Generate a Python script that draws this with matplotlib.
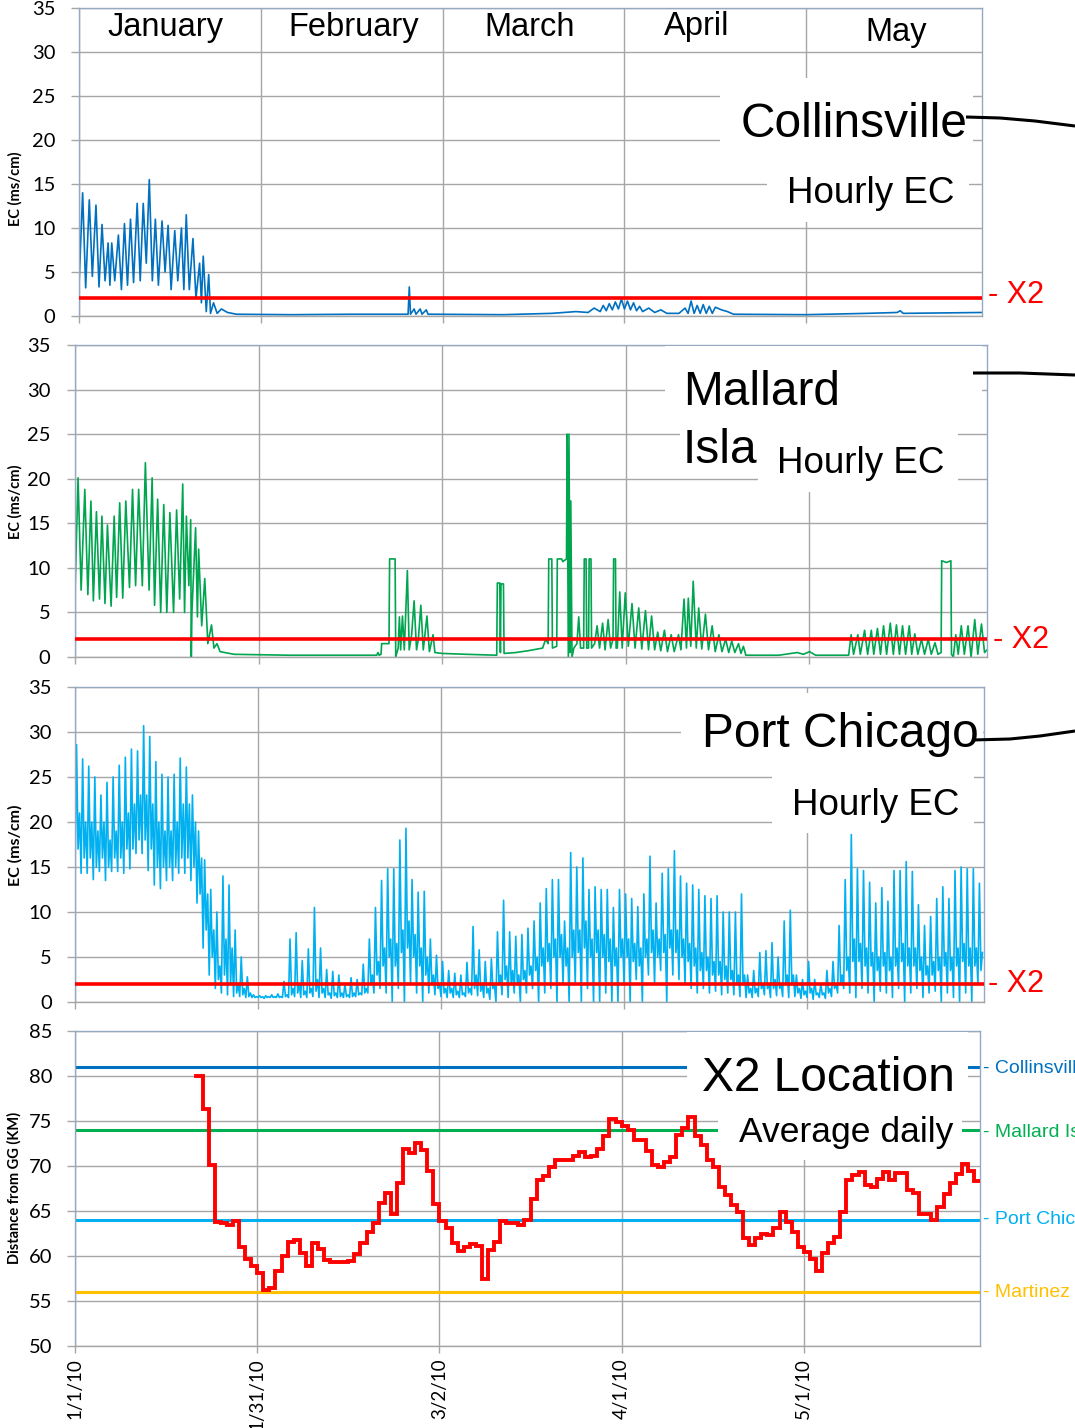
import numpy as np
import matplotlib
matplotlib.use("Agg")
import matplotlib.pyplot as plt
from matplotlib.patches import Rectangle
from matplotlib.lines import Line2D

W, H = 1075, 1428

# ---------------- data ----------------
months = ["January", "February", "March", "April", "May"]
date_ticks = [0, 30, 60, 90, 120]           # days since 1/1/10
date_labels = ["1/1/10", "1/31/10", "3/2/10", "4/1/10", "5/1/10"]
x2_threshold = 2.0                           # ms/cm

# Collinsville hourly EC (day, value)
coll_t = [0.0, 0.6, 1.1, 1.7, 2.2, 2.8, 3.3, 3.8, 4.3, 4.8,
          5.1, 5.4, 5.9, 6.5, 7.0, 7.5, 8.0, 8.5, 9.0, 9.6,
          10.1, 10.6, 11.1, 11.6, 12.1, 12.6, 13.1, 13.7, 14.2, 14.7,
          15.2, 15.8, 16.3, 16.9, 17.3, 17.7, 18.2, 18.8, 19.3, 19.9,
          20.2, 20.5, 21.0, 21.4, 21.7, 22.2, 22.8, 23.5, 24.5, 26.0,
          35.0, 45.0, 53.5, 54.3, 54.5, 54.7, 55.3, 55.6, 56.3, 56.6,
          57.3, 57.6, 58.5, 70.0, 78.0, 82.0, 84.0, 85.0, 86.0, 86.5,
          87.0, 87.5, 88.0, 88.5, 89.0, 89.5, 90.0, 90.5, 91.0, 91.5,
          92.0, 92.5, 93.0, 94.0, 95.0, 96.0, 97.0, 99.0, 100.0, 100.5,
          101.0, 101.5, 102.0, 102.5, 103.0, 103.5, 104.0, 104.5, 105.0, 106.0,
          107.0, 108.0, 120.0, 130.0, 135.0, 135.5, 136.0, 149.0]
coll_v = [3.5, 14.0, 3.2, 13.2, 4.5, 12.6, 3.3, 10.4, 4.0, 8.3,
          3.5, 8.3, 4.0, 9.2, 3.0, 10.5, 3.5, 11.0, 3.8, 12.8,
          4.0, 12.8, 6.0, 15.5, 4.0, 11.0, 3.5, 10.8, 5.0, 10.3,
          3.0, 9.7, 4.0, 10.0, 3.0, 11.5, 3.0, 8.8, 2.0, 6.0,
          1.5, 6.8, 0.5, 4.7, 0.3, 1.5, 0.3, 0.8, 0.4, 0.2,
          0.15, 0.2, 0.2, 0.2, 3.3, 0.2, 0.8, 0.2, 0.8, 0.2,
          0.7, 0.2, 0.2, 0.15, 0.3, 0.5, 0.4, 0.9, 0.5, 1.2,
          0.6, 1.4, 0.7, 1.6, 0.8, 1.9, 0.8, 1.7, 0.7, 1.5,
          0.6, 1.1, 0.5, 0.9, 0.4, 0.7, 0.3, 0.3, 0.9, 0.3,
          1.7, 0.3, 1.2, 0.3, 1.3, 0.3, 1.1, 0.3, 1.0, 0.7,
          0.5, 0.2, 0.15, 0.3, 0.4, 0.6, 0.3, 0.4]

# Mallard Island hourly EC (day, value)
mal_t = [0.0, 0.5, 1.0, 1.6, 2.1, 2.6, 3.0, 3.5, 4.0, 4.4,
         4.9, 5.3, 5.9, 6.4, 6.8, 7.3, 7.8, 8.3, 8.9, 9.4,
         9.9, 10.4, 11.0, 11.5, 12.1, 12.6, 13.0, 13.5, 14.0, 14.5,
         15.0, 15.5, 16.1, 16.6, 17.1, 17.6, 17.9, 18.2, 18.6, 18.9,
         19.0, 19.1, 19.7, 20.0, 20.2, 20.7, 21.2, 21.7, 22.3, 22.7,
         23.2, 23.7, 24.5, 26.0, 35.0, 45.0, 49.3, 49.5, 49.7, 50.0,
         50.1, 51.3, 51.4, 52.3, 52.4, 52.8, 53.0, 53.2, 53.5, 53.8,
         54.3, 54.6, 55.0, 55.4, 55.8, 56.1, 56.5, 56.9, 57.5, 57.9,
         58.5, 58.8, 60.0, 64.0, 68.9, 69.0, 69.4, 69.5, 69.6, 70.0,
         70.1, 72.0, 74.0, 76.4, 76.9, 77.3, 77.4, 77.9, 78.0, 78.7,
         78.8, 79.5, 79.7, 80.3, 80.4, 80.6, 80.7, 80.9, 81.0, 81.2,
         81.5, 82.0, 82.3, 82.6, 83.1, 83.2, 83.5, 83.6, 83.9, 84.0,
         84.3, 84.4, 84.9, 85.3, 85.7, 86.2, 86.6, 87.1, 87.5, 87.9,
         88.0, 88.3, 88.4, 88.6, 89.0, 89.4, 89.9, 90.4, 91.0, 91.5,
         92.1, 92.6, 93.2, 93.7, 94.2, 94.7, 95.2, 95.7, 96.3, 96.8,
         97.4, 97.9, 98.6, 99.0, 99.5, 99.9, 100.2, 100.6, 101.0, 101.5,
         101.9, 102.4, 103.0, 103.5, 104.1, 104.6, 105.2, 105.7, 106.3, 106.8,
         107.3, 107.8, 108.4, 108.8, 109.2, 109.6, 115.0, 118.0, 119.0, 120.0,
         121.0, 126.4, 126.8, 127.2, 127.9, 128.3, 129.0, 129.5, 130.1, 130.5,
         131.1, 131.6, 132.1, 132.6, 133.2, 133.7, 134.2, 134.7, 135.2, 135.7,
         136.3, 136.7, 137.2, 137.7, 138.3, 138.8, 139.4, 139.9, 140.5, 141.0,
         141.5, 141.6, 142.4, 143.1, 143.2, 143.5, 143.9, 144.3, 144.8, 145.3,
         145.9, 146.4, 147.0, 147.5, 148.1, 148.6, 149.0]
mal_v = [7.2, 20.1, 7.5, 18.8, 7.0, 17.5, 6.3, 16.3, 6.5, 15.8,
         6.0, 14.8, 5.7, 15.8, 6.7, 17.3, 6.6, 17.5, 7.8, 18.8,
         8.0, 18.8, 8.0, 21.8, 7.5, 20.1, 5.8, 17.7, 5.0, 17.1,
         5.0, 16.2, 5.0, 16.5, 6.5, 19.4, 5.0, 15.8, 8.0, 15.4,
         0.0, 5.0, 14.5, 4.5, 12.1, 3.5, 8.8, 1.5, 3.6, 1.0,
         1.5, 0.6, 0.5, 0.3, 0.2, 0.2, 0.2, 0.5, 0.2, 0.3,
         1.5, 1.5, 11.0, 11.0, 0.0, 1.0, 4.5, 0.8, 4.6, 0.8,
         9.7, 0.8, 2.5, 6.3, 0.8, 2.0, 5.8, 0.8, 4.6, 0.6,
         2.5, 0.5, 0.4, 0.3, 0.2, 8.3, 8.3, 0.5, 8.2, 8.2,
         0.4, 0.5, 0.7, 1.0, 2.0, 1.5, 11.0, 11.0, 1.0, 1.2,
         11.0, 11.0, 10.7, 11.0, 25.0, 0.0, 25.0, 0.5, 17.5, 0.0,
         1.0, 1.5, 4.5, 1.0, 1.0, 11.0, 11.0, 1.0, 1.0, 11.0,
         11.0, 1.0, 1.5, 3.5, 1.0, 3.8, 0.8, 4.2, 1.0, 2.0,
         11.0, 11.0, 1.0, 1.0, 7.3, 1.0, 7.2, 1.2, 6.0, 1.0,
         5.5, 0.9, 5.2, 0.8, 4.6, 0.8, 2.8, 0.7, 3.0, 0.6,
         2.5, 0.6, 2.5, 0.8, 6.5, 1.0, 6.6, 1.2, 8.5, 1.0,
         5.5, 0.9, 4.8, 0.8, 3.5, 0.6, 2.5, 0.6, 2.0, 0.5,
         1.8, 0.5, 1.5, 0.4, 1.2, 0.2, 0.2, 0.5, 0.3, 0.6,
         0.2, 0.2, 2.5, 0.3, 2.5, 0.3, 3.0, 0.3, 3.0, 0.3,
         3.2, 0.3, 3.5, 0.3, 3.8, 0.3, 3.6, 0.3, 3.5, 0.3,
         3.5, 0.3, 2.6, 0.3, 2.0, 0.3, 2.0, 0.3, 1.6, 0.3,
         0.5, 10.8, 10.6, 10.8, 0.3, 0.0, 2.5, 0.3, 3.5, 0.3,
         3.5, 0.0, 4.2, 0.3, 3.7, 0.5, 0.8]

# Port Chicago hourly EC: per day low, high, second low, second high (days 0..148)
pc_lo = [14.5, 14.3, 14.3, 13.6, 14.5, 13.5, 14.5, 14.5, 14.3, 14.8,
         16.5, 16.5, 14.6, 13.0, 12.6, 13.5, 13.5, 14.3, 14.3, 13.5,
         11.0, 6.0, 3.0, 1.5, 1.0, 0.8, 0.6, 0.6, 0.5, 0.5,
         0.5, 0.4, 0.5, 0.5, 0.5, 0.5, 0.6, 0.5, 0.5, 0.6,
         0.5, 0.5, 0.4, 0.5, 0.5, 0.5, 0.6, 0.8, 1.0, 1.0,
         1.5, 1.0, 0.0, 1.5, 0.0, 2.0, 1.0, 0.0, 1.0, 0.8,
         0.6, 0.5, 0.5, 0.5, 0.6, 0.8, 0.7, 0.5, 0.3, 0.0,
         0.8, 0.5, 1.0, 0.0, 1.0, 1.5, 0.0, 1.0, 1.5, 0.0,
         2.0, 0.0, 2.0, 0.0, 1.5, 0.0, 0.0, 1.0, 0.0, 0.0,
         2.0, 0.0, 2.5, 0.0, 3.0, 2.0, 3.5, 0.0, 3.0, 2.5,
         2.0, 1.5, 1.0, 1.5, 1.0, 1.2, 0.8, 1.0, 0.8, 0.6,
         0.5, 0.5, 0.6, 0.8, 0.5, 0.7, 0.6, 0.5, 0.6, 0.4,
         0.5, 0.3, 0.5, 0.4, 0.6, 1.0, 1.5, 1.0, 0.5, 1.5,
         1.0, 0.0, 1.2, 1.0, 0.5, 1.5, 0.0, 1.0, 1.5, 0.5,
         1.0, 1.2, 0.0, 1.0, 0.5, 0.0, 1.0, 0.0, 2.0]
pc_hi = [28.6, 27.0, 26.2, 25.0, 23.0, 24.4, 25.0, 26.3, 27.2, 28.1,
         27.9, 30.7, 29.5, 26.7, 25.3, 25.0, 25.3, 27.1, 26.1, 23.0,
         19.0, 15.8, 12.5, 10.0, 14.0, 13.0, 8.0, 5.0, 2.8, 0.8,
         0.7, 0.7, 0.8, 0.9, 2.3, 7.0, 7.7, 4.6, 5.9, 10.5,
         6.0, 3.6, 3.4, 3.0, 2.0, 2.7, 2.5, 4.2, 7.0, 10.5,
         13.5, 14.8, 14.8, 18.0, 19.3, 13.6, 12.2, 12.3, 7.0, 5.2,
         4.5, 3.5, 3.2, 3.0, 4.4, 8.4, 5.8, 4.5, 4.8, 7.8,
         11.3, 7.8, 7.3, 7.5, 8.2, 9.0, 11.0, 12.6, 13.6, 13.6,
         9.0, 16.6, 15.0, 16.0, 12.5, 12.8, 12.5, 12.5, 10.5, 12.5,
         12.0, 11.5, 10.6, 12.0, 16.2, 11.0, 14.3, 14.8, 16.8, 14.0,
         13.2, 13.0, 12.5, 11.8, 11.5, 11.8, 10.0, 10.0, 10.0, 12.0,
         3.0, 3.5, 5.5, 5.7, 6.6, 5.0, 9.0, 10.2, 3.0, 2.5,
         4.5, 2.5, 2.0, 3.5, 4.5, 8.5, 13.6, 18.6, 14.8, 14.6,
         13.3, 11.0, 12.7, 11.2, 14.6, 14.6, 15.6, 14.5, 10.8, 8.5,
         9.5, 11.5, 12.8, 11.5, 14.6, 15.0, 14.8, 14.8, 13.2]
pc_lo2 = [17.0, 16.0, 16.0, 15.0, 16.0, 15.0, 16.0, 16.0, 17.0, 17.0,
          18.0, 18.0, 17.0, 15.0, 15.0, 15.0, 15.0, 16.0, 16.0, 15.0,
          12.0, 8.0, 5.0, 2.5, 3.0, 2.0, 1.0, 0.8, 0.6, 0.5,
          0.5, 0.5, 0.5, 0.5, 0.6, 0.8, 1.0, 0.8, 1.0, 1.2,
          1.0, 0.8, 0.7, 0.6, 0.6, 0.6, 0.8, 1.0, 2.0, 3.0,
          4.0, 5.0, 4.0, 5.5, 6.0, 5.0, 4.0, 3.0, 2.0, 1.5,
          1.0, 1.0, 0.8, 0.8, 1.0, 1.5, 1.2, 1.0, 1.5, 2.0,
          2.5, 2.0, 2.0, 2.5, 3.0, 3.5, 4.0, 4.5, 5.0, 5.0,
          4.0, 5.0, 5.5, 6.0, 5.0, 5.5, 5.0, 4.5, 4.0, 5.0,
          5.0, 4.5, 4.0, 5.0, 5.5, 5.0, 5.5, 6.0, 5.5, 5.0,
          4.5, 4.0, 3.5, 3.5, 3.0, 3.0, 2.5, 2.5, 2.0, 2.0,
          1.0, 1.0, 1.5, 1.5, 1.5, 1.5, 2.0, 2.0, 1.0, 0.8,
          1.0, 0.8, 0.8, 1.0, 1.5, 2.0, 3.5, 4.5, 4.5, 4.0,
          4.0, 3.5, 4.0, 3.5, 4.0, 4.5, 4.0, 4.0, 3.5, 3.0,
          3.0, 3.5, 4.0, 3.5, 4.0, 4.5, 4.0, 4.0, 3.5]
pc_hi2 = [21.0, 20.0, 20.0, 19.0, 20.0, 18.0, 19.0, 20.0, 21.0, 22.0,
          23.0, 23.0, 22.0, 20.0, 19.0, 19.0, 20.0, 22.0, 22.0, 20.0,
          16.0, 12.0, 8.0, 4.0, 7.0, 6.0, 2.0, 1.5, 1.0, 0.6,
          0.6, 0.6, 0.6, 0.6, 0.8, 1.5, 2.0, 1.2, 1.5, 2.5,
          1.5, 1.0, 1.0, 1.0, 0.8, 1.0, 1.0, 1.5, 3.0, 4.5,
          6.0, 7.0, 6.5, 8.0, 9.0, 7.5, 6.0, 5.0, 3.0, 2.0,
          1.5, 1.5, 1.2, 1.0, 1.5, 3.0, 2.0, 1.5, 2.0, 3.0,
          4.0, 3.5, 3.0, 3.5, 4.0, 5.0, 6.0, 6.5, 7.0, 7.5,
          6.0, 8.0, 8.0, 9.0, 7.0, 8.0, 7.5, 7.0, 6.0, 7.0,
          7.0, 6.5, 6.0, 7.0, 8.0, 7.0, 7.5, 8.0, 8.0, 7.0,
          6.5, 6.0, 5.5, 5.0, 4.5, 4.5, 4.0, 3.5, 3.0, 3.0,
          1.5, 1.5, 2.0, 2.0, 2.5, 2.0, 3.0, 3.0, 1.5, 1.2,
          1.5, 1.0, 1.0, 1.5, 2.0, 3.0, 5.0, 7.0, 6.5, 6.0,
          5.5, 5.0, 5.5, 5.0, 6.0, 6.5, 6.0, 6.0, 5.0, 4.0,
          4.5, 5.0, 5.5, 5.0, 6.0, 6.5, 6.0, 6.0, 5.5]

# X2 location, average daily (km from Golden Gate), days 20..148
x2_first_day = 20
x2_daily = [80.0, 76.3, 70.1, 63.8, 63.7, 63.4, 63.9, 61.0, 59.7, 58.9,
            58.1, 56.2, 56.5, 58.3, 60.0, 61.6, 61.8, 60.3, 58.9, 61.5,
            60.8, 59.6, 59.3, 59.3, 59.3, 59.5, 60.2, 61.4, 62.7, 63.7,
            65.9, 67.0, 64.7, 68.1, 71.9, 71.5, 72.6, 71.8, 69.5, 65.8,
            63.9, 63.1, 61.5, 60.6, 61.0, 61.3, 61.1, 57.4, 60.7, 61.6,
            63.9, 63.7, 63.7, 63.5, 64.0, 66.3, 68.4, 68.9, 69.9, 70.7,
            70.7, 70.7, 71.1, 71.6, 71.0, 71.1, 71.9, 73.3, 75.2, 74.9,
            74.4, 74.0, 72.9, 72.9, 71.7, 70.1, 69.9, 70.5, 71.0, 73.4,
            74.2, 75.4, 73.3, 72.3, 70.7, 69.9, 67.7, 66.8, 65.7, 64.9,
            62.0, 61.2, 62.0, 62.5, 62.3, 63.1, 64.9, 63.8, 62.7, 61.0,
            60.5, 59.7, 58.3, 60.3, 61.5, 62.1, 64.9, 68.4, 69.0, 69.3,
            67.9, 67.7, 68.6, 69.3, 68.5, 69.2, 69.2, 67.3, 67.0, 64.7,
            64.7, 64.0, 65.5, 66.9, 68.1, 69.1, 70.2, 69.4, 68.3]

stations = ["Collinsville", "Mallard Island", "Port Chicago", "Martinez"]
station_km = [81, 74, 64, 56]
station_colors = ["#0070C0", "#00B050", "#00B0F0", "#FFC000"]

# ---------------- drawing ----------------
ARIAL = "Liberation Sans"
CAL = "Lato"
GRID = "#A6A6A6"
SPINE = "#95A9C4"
RED = "#FF0000"
XMAX = 149

fig = plt.figure(figsize=(W / 100, H / 100), dpi=100)


def fx(x):
    return x / W


def fy(y):
    return 1 - y / H


def px_axes(l, t, r, b):
    return fig.add_axes([l / W, 1 - b / H, (r - l) / W, (b - t) / H])


def style(ax, ymin, ymax, pad):
    ax.set_xlim(0, XMAX)
    ax.set_ylim(ymin, ymax)
    ax.set_yticks(np.arange(ymin, ymax + 1, 5))
    ax.set_xticks(date_ticks)
    ax.grid(True, color=GRID, lw=1.0)
    ax.set_axisbelow(True)
    for s in ax.spines.values():
        s.set_color(SPINE)
        s.set_linewidth(1.0)
    ax.spines["bottom"].set_color(GRID)
    ax.tick_params(axis="y", length=6, width=1, color=GRID, pad=pad,
                   labelsize=14.5)
    ax.tick_params(axis="x", length=5, width=1, color=GRID, labelbottom=False)
    for lab in ax.get_yticklabels():
        lab.set_fontfamily(CAL)


def white_box(l, t, r, b, z=5):
    fig.add_artist(Rectangle((fx(l), fy(b)), (r - l) / W, (b - t) / H,
                             transform=fig.transFigure, facecolor="white",
                             edgecolor="none", zorder=z))


def ftext(x, y, s, size, color="black", z=6, **kw):
    fig.text(fx(x), fy(y), s, fontsize=size, color=color, family=ARIAL,
             ha="left", va="baseline", zorder=z, **kw)


def callout(xs, ys):
    fig.add_artist(Line2D([fx(v) for v in xs], [fy(v) for v in ys],
                          transform=fig.transFigure, color="black",
                          lw=2.2, zorder=7, solid_capstyle="butt"))


# Panel 1 - Collinsville
ax1 = px_axes(79, 8, 982, 316)
style(ax1, 0, 35, 11.0)
ax1.plot(coll_t, coll_v, color="#0070C0", lw=1.2, zorder=2)
ax1.axhline(x2_threshold, color=RED, lw=2.6, zorder=3)
for m, (xc, yb) in zip(months, [(165, 36), (354, 36), (530, 36), (697, 35), (896, 41)]):
    fig.text(fx(xc), fy(yb), m, fontsize=23.5, family=ARIAL, ha="center",
             va="baseline", zorder=6)
white_box(720, 78, 973, 165)
white_box(767, 165, 969, 222)
ftext(741, 137, "Collinsville", 34.5)
ftext(787, 203, "Hourly EC", 26.5)
ftext(988, 303, "- X2", 22, color=RED)
callout([966, 1000, 1035, 1075], [117, 118, 121, 126])

# Panel 2 - Mallard Island
ax2 = px_axes(75, 345, 987, 657)
style(ax2, 0, 35, 11.8)
ax2.plot(mal_t, mal_v, color="#00A550", lw=1.2, zorder=2)
ax2.axhline(x2_threshold, color=RED, lw=2.6, zorder=3)
white_box(665, 346, 982, 432)
white_box(680, 432, 760, 470)
ftext(683, 405, "Mallard", 34.5)
ftext(683, 463, "Isla", 34.5)
white_box(758, 432, 958, 492, z=6.5)
ftext(777, 473, "Hourly EC", 26.5, z=8)
ftext(993, 648, "- X2", 22, color=RED)
callout([973, 1020, 1075], [373, 373, 375])

# Panel 3 - Port Chicago
ax3 = px_axes(75, 687, 984, 1002)
style(ax3, 0, 35, 10.5)
pc_t, pc_v = [], []
for d in range(len(pc_lo)):
    pc_t += [d, d + 0.25, d + 0.5, d + 0.75]
    pc_v += [pc_lo[d], pc_hi[d], pc_lo2[d], pc_hi2[d]]
ax3.plot(pc_t, pc_v, color="#00B0F0", lw=1.2, zorder=2)
ax3.axhline(x2_threshold, color=RED, lw=2.6, zorder=3)
white_box(681, 693, 983, 760)
white_box(772, 760, 974, 833)
ftext(702, 747, "Port Chicago", 34.5)
ftext(792, 815, "Hourly EC", 26.5)
ftext(988, 992, "- X2", 22, color=RED)
callout([972, 1010, 1040, 1075], [740, 739, 736, 731])

# Panel 4 - X2 location
ax4 = px_axes(75, 1031, 980, 1346)
style(ax4, 50, 85, 10.5)
for km, col in zip(station_km, station_colors):
    ax4.axhline(km, color=col, lw=2.2, zorder=1.5)
x2_days = list(range(x2_first_day, x2_first_day + len(x2_daily))) + [XMAX]
x2_vals = x2_daily + [x2_daily[-1]]
ax4.step(x2_days, x2_vals, where="post", color=RED, lw=2.8, zorder=3,
         solid_joinstyle="miter")
ax4.tick_params(axis="x", labelbottom=True, labelsize=13.5, pad=4,
                labelrotation=90)
ax4.set_xticklabels(date_labels)
for lab in ax4.get_xticklabels():
    lab.set_fontfamily(CAL)
white_box(687, 1032, 968, 1100)
white_box(718, 1100, 962, 1160)
ftext(702, 1091, "X2 Location", 34.5)
ftext(739, 1142, "Average daily", 25.5)
for name, col, yb in zip(stations, station_colors, [1073, 1137, 1224, 1297]):
    ftext(983, yb, "- " + name, 14, color=col)

# axis titles
for yc, size in [(189, 10.5), (502, 10.5), (845, 11.5)]:
    fig.text(fx(15), fy(yc), "EC (ms/cm)", rotation=90, ha="center",
             va="center", fontsize=size, fontweight="bold", family=CAL)
fig.text(fx(14), fy(1188), "Distance from GG (KM)", rotation=90, ha="center",
         va="center", fontsize=10.5, fontweight="bold", family=CAL)

fig.savefig("out.png", dpi=100)
